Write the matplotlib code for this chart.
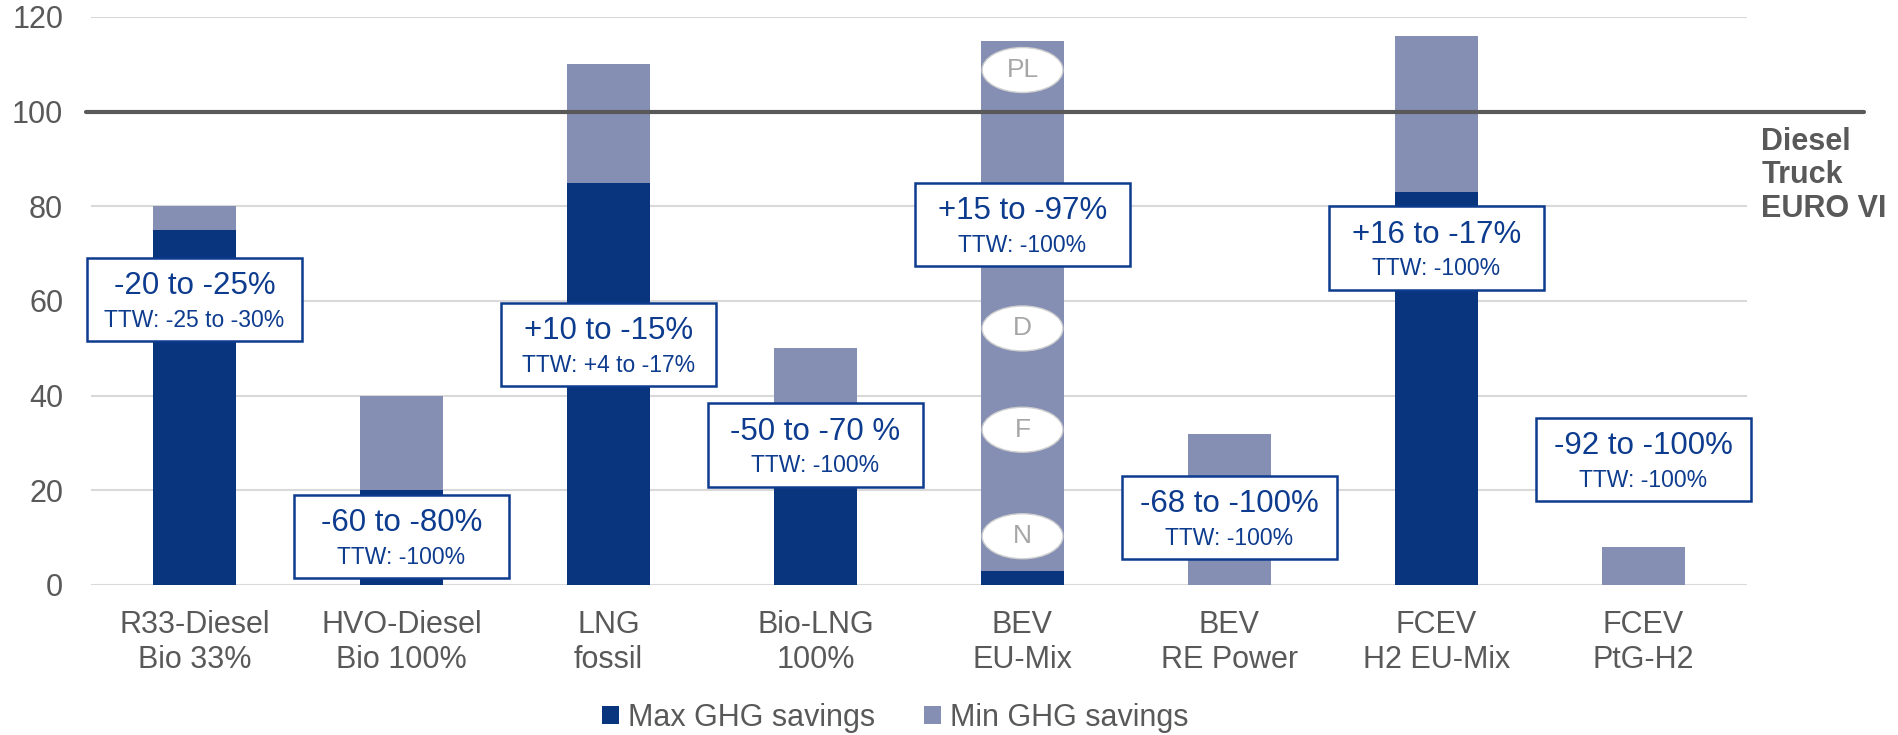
import matplotlib.pyplot as plt
from matplotlib.patches import Ellipse, Rectangle

plt.rcParams['font.family'] = ['Liberation Sans', 'DejaVu Sans']

categories = ["R33-Diesel\nBio 33%", "HVO-Diesel\nBio 100%", "LNG\nfossil", "Bio-LNG\n100%",
              "BEV\nEU-Mix", "BEV\nRE Power", "FCEV\nH2 EU-Mix", "FCEV\nPtG-H2"]
max_savings = [75, 20, 85, 30, 3, 0, 83, 0]
min_savings = [80, 40, 110, 50, 115, 32, 116, 8]
diesel_ref = 100

box_main = ["-20 to -25%", "-60 to -80%", "+10 to -15%", "-50 to -70 %",
            "+15 to -97%", "-68 to -100%", "+16 to -17%", "-92 to -100%"]
box_ttw = ["TTW: -25 to -30%", "TTW: -100%", "TTW: +4 to -17%", "TTW: -100%",
           "TTW: -100%", "TTW: -100%", "TTW: -100%", "TTW: -100%"]
box_y = [60.3, 10.3, 50.8, 29.6, 76.2, 14.2, 71.2, 26.5]

country_labels = ["PL", "D", "F", "N"]
country_y = [108.8, 54.2, 32.8, 10.3]

dark = '#08357e'
light = '#858fb3'
navy_text = '#0d3b8e'
grey = '#595959'

fig = plt.figure(figsize=(18.99, 7.35), dpi=100)
ax = fig.add_axes([91 / 1899, 150 / 735, 1656 / 1899, 568 / 735])

x = list(range(len(categories)))
diff = [t - m for t, m in zip(min_savings, max_savings)]
ax.bar(x, max_savings, width=0.4, color=dark, label='Max GHG savings', zorder=2)
ax.bar(x, diff, width=0.4, bottom=max_savings, color=light, label='Min GHG savings', zorder=2)

ax.set_xlim(-0.5, len(categories) - 0.5)
ax.set_ylim(0, 120)
ax.set_yticks(range(0, 121, 20))
ax.grid(axis='y', color='#d9d9d9', linewidth=1.5, zorder=0)
ax.set_axisbelow(True)
for s in ax.spines.values():
    s.set_visible(False)
ax.tick_params(axis='both', length=0, labelsize=22, labelcolor=grey)
ax.tick_params(axis='y', pad=20)
ax.tick_params(axis='x', pad=18)
ax.set_xticks(x)
ax.set_xticklabels(categories, linespacing=1.2)

# diesel reference line
ax.plot([-0.525, 8.065], [diesel_ref, diesel_ref], color=grey, linewidth=3,
        solid_capstyle='round', clip_on=False, zorder=3)
ax.text(7.57, 96.8, "Diesel\nTruck\nEURO VI", fontsize=22, fontweight='bold',
        color=grey, va='top', ha='left', linespacing=1.15)

# country ellipses on BEV EU-Mix
for lab, yy in zip(country_labels, country_y):
    ax.add_patch(Ellipse((4, yy), 0.39, 9.5, facecolor='white', edgecolor='#d0d0d0',
                         linewidth=1, zorder=4))
    ax.text(4, yy, lab, fontsize=19, color='#a6a6a6', ha='center', va='center', zorder=5)

# annotation boxes
bw, bh = 1.04, 17.6
for i, (m, t, yy) in enumerate(zip(box_main, box_ttw, box_y)):
    ax.add_patch(Rectangle((i - bw / 2, yy - bh / 2), bw, bh, facecolor='white',
                           edgecolor=navy_text, linewidth=1.8, zorder=6, clip_on=False))
    ax.text(i, yy + bh * 0.16, m, fontsize=22.5, color=navy_text, ha='center',
            va='center', zorder=7)
    ax.text(i, yy - bh * 0.25, t, fontsize=16.5, color=navy_text, ha='center',
            va='center', zorder=7)

fig.legend(loc='center', bbox_to_anchor=(895 / 1899, 1 - 718 / 735), ncol=2,
           frameon=False, fontsize=22, labelcolor=grey, handlelength=0.55,
           handleheight=0.55, handletextpad=0.3, columnspacing=1.6)

fig.savefig('out.png', dpi=100)
